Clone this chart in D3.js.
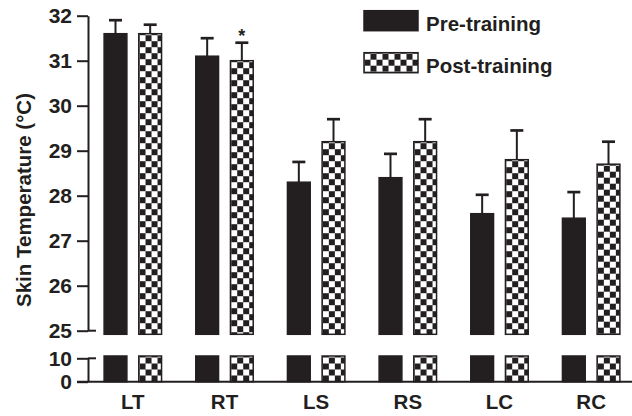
<!DOCTYPE html>
<html>
<head>
<meta charset="utf-8">
<script src="https://cdn.jsdelivr.net/npm/d3@7"></script>
<style>
  html, body { margin: 0; padding: 0; background: #fff; }
  svg { display: block; font-family: "Liberation Sans", Arial, Helvetica, sans-serif; }
</style>
</head>
<body>
<svg id="chart" width="632" height="416"></svg>
<script>
// ---- data ----
const categories = ["LT", "RT", "LS", "RS", "LC", "RC"];
const seriesNames = ["Pre-training", "Post-training"];
const preMeans  = [31.6, 31.1, 28.3, 28.4, 27.6, 27.5];
const preErrors = [0.3, 0.4, 0.45, 0.53, 0.42, 0.58];
const postMeans  = [31.6, 31.0, 29.2, 29.2, 28.8, 28.7];
const postErrors = [0.2, 0.4, 0.5, 0.5, 0.65, 0.5];
const significant = ["RT"]; // post-training marked with *
const upperTicks = [25, 26, 27, 28, 29, 30, 31, 32];
const lowerTicks = [0, 10];
const yTitle = "Skin Temperature (\u00B0C)";

// ---- layout ----
const W = 632, H = 416;
const axisX = 88;
const ink = "#231f20";
const svg = d3.select("#chart");

const yUp = d3.scaleLinear().domain([25, 32]).range([330.7, 15.7]);
const yLo = d3.scaleLinear().domain([0, 10]).range([381.7, 358.3]);
const x = d3.scaleBand().domain(categories).range([87, 637]).paddingInner(0.357).paddingOuter(0.1785);
const xs = d3.scaleBand().domain(seriesNames).range([0, x.bandwidth()]).paddingInner(0.3);

const rows = categories.map((c, i) => ([
  { cat: c, s: seriesNames[0], v: preMeans[i], e: preErrors[i], i },
  { cat: c, s: seriesNames[1], v: postMeans[i], e: postErrors[i], i }
])).flat();

const defs = svg.append("defs");
const cell = 6;
function addChecker(id, ox, oy) {
  const p = defs.append("pattern").attr("id", id)
    .attr("patternUnits", "userSpaceOnUse")
    .attr("x", ox).attr("y", oy)
    .attr("width", cell * 2).attr("height", cell * 2);
  p.append("rect").attr("width", cell * 2).attr("height", cell * 2).attr("fill", "#fff");
  p.append("rect").attr("x", cell).attr("y", 0).attr("width", cell).attr("height", cell).attr("fill", ink);
  p.append("rect").attr("x", 0).attr("y", cell).attr("width", cell).attr("height", cell).attr("fill", ink);
}

const overTop = 2.3;   // lower segment bars rise slightly past 10
const overBot = 3.6;   // upper segment bars drop slightly below 25

rows.forEach((d, k) => {
  const bx = x(d.cat) + xs(d.s);
  const bw = xs.bandwidth();
  let fill = ink;
  if (d.s === seriesNames[1]) {
    const pid = "chk" + k;
    addChecker(pid, bx + 1.5, yUp(d.v) + 1.5);
    fill = `url(#${pid})`;
  }
  // upper segment
  svg.append("rect")
    .attr("x", bx + 0.75).attr("y", yUp(d.v))
    .attr("width", bw - 1.5).attr("height", yUp(25) + overBot - yUp(d.v))
    .attr("fill", fill).attr("stroke", ink).attr("stroke-width", 1.5);
  // lower segment
  let lf = ink;
  if (d.s === seriesNames[1]) {
    const pid = "chkL" + k;
    addChecker(pid, bx + 1.5, yLo(10) - overTop + 1.5);
    lf = `url(#${pid})`;
  }
  svg.append("rect")
    .attr("x", bx + 0.75).attr("y", yLo(10) - overTop)
    .attr("width", bw - 1.5).attr("height", yLo(0) - (yLo(10) - overTop))
    .attr("fill", lf).attr("stroke", ink).attr("stroke-width", 1.5);
  // error bar
  const cx = bx + bw / 2;
  svg.append("line").attr("x1", cx).attr("x2", cx)
    .attr("y1", yUp(d.v)).attr("y2", yUp(d.v + d.e))
    .attr("stroke", ink).attr("stroke-width", 2);
  svg.append("line").attr("x1", cx - 6.5).attr("x2", cx + 6.5)
    .attr("y1", yUp(d.v + d.e)).attr("y2", yUp(d.v + d.e))
    .attr("stroke", ink).attr("stroke-width", 2.7);
  if (d.s === seriesNames[1] && significant.includes(d.cat)) {
    svg.append("text").attr("x", cx).attr("y", yUp(d.v + d.e) - 1)
      .attr("text-anchor", "middle").attr("font-size", 18).attr("font-weight", "bold")
      .attr("fill", ink).text("*");
  }
});

// ---- axes ----
function styleAxis(g) {
  g.selectAll("path, line").attr("stroke", ink).attr("stroke-width", 2);
  g.selectAll("text").attr("font-size", 21).attr("font-weight", "bold")
    .attr("fill", ink).attr("font-family", "'Liberation Sans', Arial, sans-serif");
}
const upAxis = svg.append("g").attr("transform", `translate(${axisX},0)`)
  .call(d3.axisLeft(yUp).tickValues(upperTicks).tickSize(11).tickSizeOuter(0).tickPadding(5).tickFormat(d3.format("d")));
styleAxis(upAxis);
const loAxis = svg.append("g").attr("transform", `translate(${axisX},0)`)
  .call(d3.axisLeft(yLo).tickValues(lowerTicks).tickSize(11).tickSizeOuter(0).tickPadding(5).tickFormat(d3.format("d")));
styleAxis(loAxis);

// break markers
[yUp(25), yLo(10)].forEach(yy => {
  svg.append("line").attr("x1", axisX).attr("x2", axisX + 8)
    .attr("y1", yy).attr("y2", yy).attr("stroke", ink).attr("stroke-width", 2);
});

// baseline
svg.append("line").attr("x1", axisX - 11).attr("x2", W)
  .attr("y1", yLo(0)).attr("y2", yLo(0)).attr("stroke", ink).attr("stroke-width", 2);

const xAxis = svg.append("g").attr("transform", `translate(0,${yLo(0)})`)
  .call(d3.axisBottom(x).tickSize(0).tickPadding(13));
xAxis.select(".domain").remove();
xAxis.selectAll("text").attr("font-size", 20.5).attr("font-weight", "bold").attr("fill", ink)
  .attr("font-family", "'Liberation Sans', Arial, sans-serif");

// y title
svg.append("text")
  .attr("transform", `translate(31,200) rotate(-90)`)
  .attr("text-anchor", "middle").attr("font-size", 20.5).attr("font-weight", "bold")
  .attr("fill", ink).text(yTitle);

// ---- legend ----
const legend = svg.append("g");
seriesNames.forEach((s, i) => {
  const ly = 10.7 + i * 42;
  let f = ink;
  if (i === 1) { addChecker("chkLeg", 364.5, ly + 1); f = "url(#chkLeg)"; }
  legend.append("rect").attr("x", 364).attr("y", ly).attr("width", 54).attr("height", 20)
    .attr("fill", f).attr("stroke", ink).attr("stroke-width", 1.5);
  legend.append("text").attr("x", 426).attr("y", ly + 20.5)
    .attr("font-size", 20.5).attr("font-weight", "bold").attr("fill", ink).text(s);
});
</script>
</body>
</html>
